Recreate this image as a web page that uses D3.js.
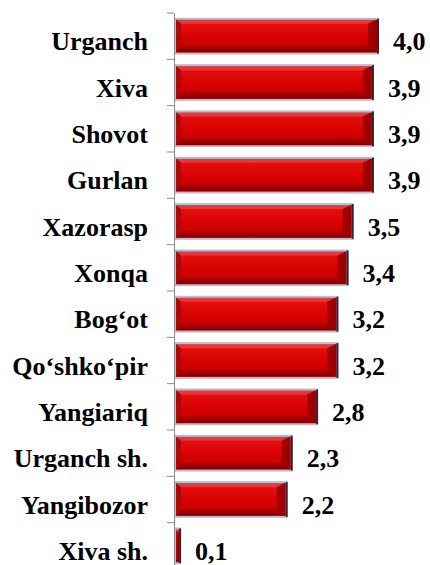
<!DOCTYPE html>
<html>
<head>
<meta charset="utf-8">
<script src="https://cdn.jsdelivr.net/npm/d3@7"></script>
<style>
  body { margin: 0; background: #fff; }
  svg { display: block; }
</style>
</head>
<body>
<div id="chart"></div>
<script>
// Data
const districts = ["Urganch", "Xiva", "Shovot", "Gurlan", "Xazorasp", "Xonqa",
                   "Bog\u2018ot", "Qo\u2018shko\u2018pir", "Yangiariq", "Urganch sh.", "Yangibozor", "Xiva sh."];
const values = [4.0, 3.9, 3.9, 3.9, 3.5, 3.4, 3.2, 3.2, 2.8, 2.3, 2.2, 0.1];

const rows = districts.map((d, i) => ({name: d, value: values[i]}));

const width = 430, height = 565;
const axisX = 174;

const svg = d3.select("#chart")
  .append("svg")
    .attr("width", width)
    .attr("height", height);

const defs = svg.append("defs");

// vertical gradient for bar face
const grad = defs.append("linearGradient")
    .attr("id", "bar-face")
    .attr("x1", 0).attr("y1", 0).attr("x2", 0).attr("y2", 1);
grad.selectAll("stop")
  .data([
    {offset: "0%", color: "#e81414"},
    {offset: "50%", color: "#d80202"},
    {offset: "100%", color: "#c00000"}
  ])
  .enter().append("stop")
    .attr("offset", d => d.offset)
    .attr("stop-color", d => d.color);

// bottom shade gradient
const shade = defs.append("linearGradient")
    .attr("id", "bar-shade")
    .attr("x1", 0).attr("y1", 0).attr("x2", 0).attr("y2", 1);
shade.selectAll("stop")
  .data([
    {offset: "0%", color: "#b00000"},
    {offset: "100%", color: "#7a0000"}
  ])
  .enter().append("stop")
    .attr("offset", d => d.offset)
    .attr("stop-color", d => d.color);

// scales
const x = d3.scaleLinear()
    .domain([0, 4])
    .range([axisX + 1, axisX + 204]);

const y = d3.scaleBand()
    .domain(districts)
    .range([13, 569])
    .paddingInner(0.25)
    .paddingOuter(0.125);

const fmt = v => d3.format(".1f")(v).replace(".", ",");
const textShift = 14;

// apply label font
function labelStyle(sel) {
  sel.style("font-family", "'Liberation Serif'")
     .style("font-weight", "bold")
     .style("font-size", "26px")
     .attr("fill", "#000");
}

// bars with a bevel look
const bars = svg.append("g")
  .selectAll("g")
  .data(rows)
  .enter().append("g");

bars.each(function(d) {
  const g = d3.select(this);
  const x0 = x(0), x1 = x(d.value);
  const y0 = y(d.name), y1 = y0 + y.bandwidth();
  const bl = Math.min(6, (x1 - x0) / 2);
  const br = Math.min(10, (x1 - x0) / 2);
  const bt = 5, bb = 8;

  g.append("rect")
    .attr("x", x0).attr("y", y0)
    .attr("width", x1 - x0).attr("height", y1 - y0)
    .attr("fill", "url(#bar-face)");

  // top highlight
  g.append("polygon")
    .attr("points", [[x0, y0], [x1, y0], [x1 - br, y0 + bt], [x0 + bl, y0 + bt]].join(" "))
    .attr("fill", "#f43232");
  // bottom shade
  g.append("polygon")
    .attr("points", [[x0, y1], [x1, y1], [x1 - br, y1 - bb], [x0 + bl, y1 - bb]].join(" "))
    .attr("fill", "url(#bar-shade)");
  // left side
  g.append("polygon")
    .attr("points", [[x0, y0], [x0 + bl, y0 + bt], [x0 + bl, y1 - bb], [x0, y1]].join(" "))
    .attr("fill", "#b80404");
  // right side
  g.append("polygon")
    .attr("points", [[x1, y0], [x1 - br, y0 + bt], [x1 - br, y1 - bb], [x1, y1]].join(" "))
    .attr("fill", "#9c0000");

  // outline
  g.append("rect")
    .attr("x", x0).attr("y", y0)
    .attr("width", x1 - x0).attr("height", y1 - y0)
    .attr("fill", "none")
    .attr("stroke", "#b2bfd8")
    .attr("stroke-width", 2);
  g.append("line")
    .attr("x1", x1).attr("x2", x1)
    .attr("y1", y0).attr("y2", y1)
    .attr("stroke", "#262636")
    .attr("stroke-width", 2);
});

// value labels
svg.append("g")
  .selectAll("text")
  .data(rows)
  .enter().append("text")
    .attr("x", d => x(d.value) + 15)
    .attr("y", d => y(d.name) + y.bandwidth() / 2 + textShift)
    .call(labelStyle)
    .text(d => fmt(d.value));

// y axis: labels from d3 axis, ticks between categories
const yAxis = svg.append("g")
    .attr("transform", "translate(" + axisX + ",0)")
    .call(d3.axisLeft(y).tickSize(0).tickPadding(26).tickSizeOuter(0));

yAxis.select(".domain").attr("stroke", "#8a8a8a");
yAxis.selectAll(".tick text")
    .call(labelStyle)
    .attr("dy", null)
    .attr("y", textShift);

const step = y.step();
const bounds = d3.range(districts.length + 1).map(i => y.range()[0] + i * step);
yAxis.append("g")
  .selectAll("line")
  .data(bounds)
  .enter().append("line")
    .attr("x1", -7).attr("x2", 0)
    .attr("y1", d => d).attr("y2", d => d)
    .attr("stroke", "#8a8a8a");
</script>
</body>
</html>
